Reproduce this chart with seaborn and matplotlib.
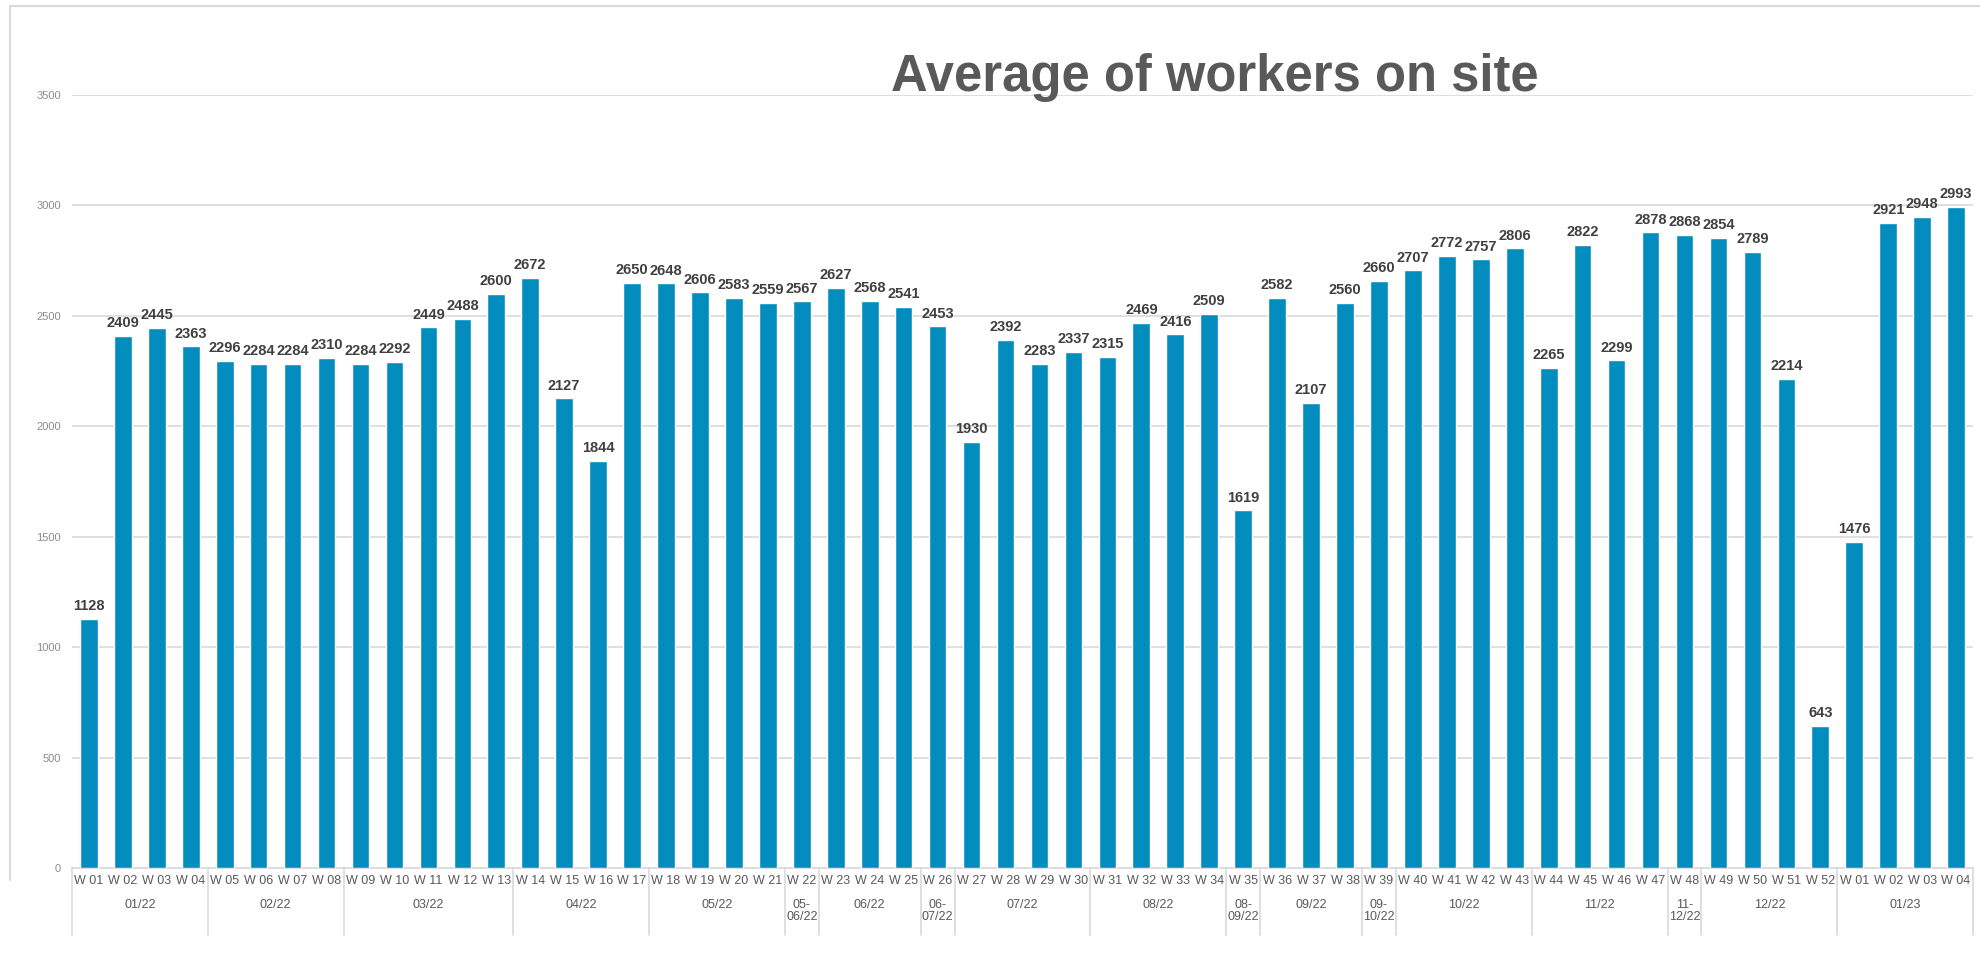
import pandas as pd
import matplotlib
matplotlib.use("Agg")
import matplotlib.pyplot as plt
import matplotlib.font_manager as fm
import seaborn as sns

# Weekly averages
weeks = ["W 01", "W 02", "W 03", "W 04", "W 05", "W 06", "W 07", "W 08", "W 09", "W 10",
         "W 11", "W 12", "W 13", "W 14", "W 15", "W 16", "W 17", "W 18", "W 19", "W 20",
         "W 21", "W 22", "W 23", "W 24", "W 25", "W 26", "W 27", "W 28", "W 29", "W 30",
         "W 31", "W 32", "W 33", "W 34", "W 35", "W 36", "W 37", "W 38", "W 39", "W 40",
         "W 41", "W 42", "W 43", "W 44", "W 45", "W 46", "W 47", "W 48", "W 49", "W 50",
         "W 51", "W 52", "W 01", "W 02", "W 03", "W 04"]
workers = [1128, 2409, 2445, 2363, 2296, 2284, 2284, 2310, 2284, 2292,
           2449, 2488, 2600, 2672, 2127, 1844, 2650, 2648, 2606, 2583,
           2559, 2567, 2627, 2568, 2541, 2453, 1930, 2392, 2283, 2337,
           2315, 2469, 2416, 2509, 1619, 2582, 2107, 2560, 2660, 2707,
           2772, 2757, 2806, 2265, 2822, 2299, 2878, 2868, 2854, 2789,
           2214, 643, 1476, 2921, 2948, 2993]

# Month groups on the second level of the category axis
months = ["01/22", "02/22", "03/22", "04/22", "05/22", "05-\n06/22", "06/22", "06-\n07/22",
          "07/22", "08/22", "08-\n09/22", "09/22", "09-\n10/22", "10/22", "11/22",
          "11-\n12/22", "12/22", "01/23"]
month_sizes = [4, 4, 5, 4, 4, 1, 3, 1, 4, 4, 1, 3, 1, 4, 4, 1, 4, 4]

month_col = []
for m, n in zip(months, month_sizes):
    month_col += [m] * n
df = pd.DataFrame({"week": weeks, "month": month_col, "workers": workers})
df["key"] = [f"{i:02d}" for i in range(len(df))]

installed = {f.name for f in fm.fontManager.ttflist}
narrow = "Liberation Sans Narrow" in installed

sns.set_style("white")
plt.rcParams["font.family"] = ["Liberation Sans", "DejaVu Sans"]

fig = plt.figure(figsize=(19.81, 9.57), dpi=100)
ax = fig.add_axes([0.0363, 0.093, 0.9597, 0.8077])

sns.barplot(data=df, x="key", y="workers", color="#038DBE", saturation=1,
            width=0.52, ax=ax, zorder=3)

ax.set_ylim(0, 3500)
ax.set_xlim(-0.5, len(df) - 0.5)
ax.set_yticks(range(0, 3501, 500))
ax.yaxis.grid(True, color="#d9d9d9", linewidth=1.2, zorder=0)
ax.xaxis.grid(False)
for s in ["top", "right", "left"]:
    ax.spines[s].set_visible(False)
ax.spines["bottom"].set_color("#d9d9d9")
ax.spines["bottom"].set_linewidth(1.2)
ax.tick_params(axis="y", length=0, pad=8, labelsize=8, labelcolor="#8c8c8c")
ax.tick_params(axis="x", length=0, pad=5, labelsize=9, labelcolor="#595959")
ax.set_xticks(range(len(df)))
ax.set_xticklabels(df["week"])
ax.set_xlabel("")
ax.set_ylabel("")

# Value labels above the bars
lab_font = ["Liberation Sans Narrow", "Liberation Sans"] if narrow else ["Liberation Sans"]
lab_size = 11.5 if narrow else 10.5
for i, v in enumerate(df["workers"]):
    ax.annotate(str(v), (i, v), xytext=(0, 4), textcoords="offset points",
                ha="center", va="bottom", fontsize=lab_size, fontweight="bold",
                color="#404040", family=lab_font)

# Second-level month labels and separators
trans = ax.get_xaxis_transform()
start = 0
bounds = [-0.5]
for m, n in zip(months, month_sizes):
    center = start + (n - 1) / 2
    ax.text(center, -0.040, m, transform=trans, ha="center", va="top",
            fontsize=9, color="#595959", linespacing=1.05)
    start += n
    bounds.append(start - 0.5)
for b in bounds:
    ax.plot([b, b], [0, -0.087], transform=trans, color="#d9d9d9",
            linewidth=1.2, clip_on=False)

# Frame of the chart area
fig.add_artist(plt.Line2D([0.005, 1.0], [0.994, 0.994], color="#d9d9d9", linewidth=1.5))
fig.add_artist(plt.Line2D([0.005, 0.005], [0.08, 0.994], color="#d9d9d9", linewidth=1.5))

fig.text(0.613, 0.905, "Average of workers on site", ha="center", va="baseline",
         fontsize=36.5, fontweight="bold", color="#595959")

fig.savefig("out.png", dpi=100)
